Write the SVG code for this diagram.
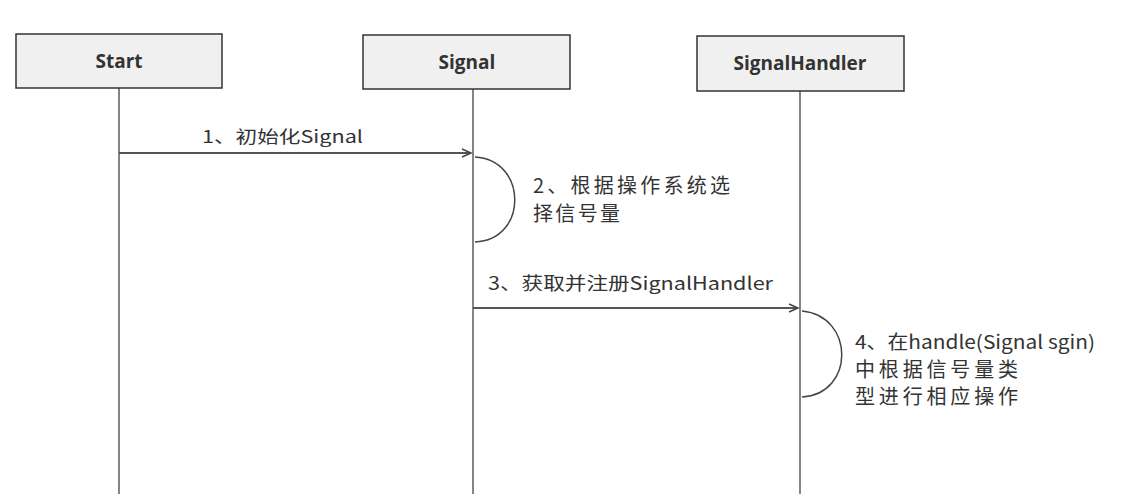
<svg xmlns="http://www.w3.org/2000/svg" width="1132" height="499" viewBox="0 0 1132 499">
<defs>
<style>
.box{fill:#f0f0f0;stroke:#333;stroke-width:1.5}
.hd{font-family:"Open Sans","Liberation Sans",sans-serif;font-weight:bold;font-size:19px;fill:#333;text-anchor:middle}
.life{stroke:#333;stroke-width:1.2;fill:none}
.msg{stroke:#555;stroke-width:1.8;fill:none}
.loop{stroke:#444;stroke-width:1.5;fill:none}
.lb{font-family:"Noto Sans CJK SC","Open Sans",sans-serif;fill:#333}
</style>
<marker id="ah" markerWidth="12" markerHeight="12" refX="10" refY="5" orient="auto" markerUnits="userSpaceOnUse">
<path d="M1,1 L10,5 L1,9" fill="none" stroke="#444" stroke-width="1.5"/>
</marker>
</defs>
<rect width="1132" height="499" fill="#fff"/>
<g id="start">
<rect class="box" x="16" y="34" width="206" height="54"/>
<text class="hd" x="119" y="68">Start</text>
<line class="life" x1="119" y1="88" x2="119" y2="494"/>
</g>
<g id="signal">
<rect class="box" x="363" y="35" width="207" height="54"/>
<text class="hd" x="467" y="69">Signal</text>
<line class="life" x1="473" y1="89" x2="473" y2="494"/>
</g>
<g id="handler">
<rect class="box" x="697" y="36" width="207" height="55"/>
<text class="hd" x="800" y="70">SignalHandler</text>
<line class="life" x1="800" y1="91" x2="800" y2="494"/>
</g>
<g id="connectors">
<line class="msg" x1="119" y1="153" x2="471" y2="153" marker-end="url(#ah)"/>
<path class="loop" d="M475,157 C528,160 528,240 475,242"/>
<line class="msg" x1="473" y1="308" x2="798" y2="308" marker-end="url(#ah)"/>
<path class="loop" d="M802,311 C855,316 855,394 802,397"/>
</g>
<g id="labels" class="lb">
<text x="202" y="143" font-size="17" textLength="161" lengthAdjust="spacingAndGlyphs">1、初始化Signal</text>
<text x="533" y="193" font-size="20" textLength="197" lengthAdjust="spacing">2、根据操作系统选</text>
<text x="533" y="221" font-size="20" textLength="87" lengthAdjust="spacing">择信号量</text>
<text x="488" y="290" font-size="18" textLength="285" lengthAdjust="spacingAndGlyphs">3、获取并注册SignalHandler</text>
<text x="855" y="349" font-size="19" textLength="240" lengthAdjust="spacingAndGlyphs">4、在handle(Signal sgin)</text>
<text x="855" y="377" font-size="20" textLength="163" lengthAdjust="spacing">中根据信号量类</text>
<text x="855" y="404" font-size="20" textLength="163" lengthAdjust="spacing">型进行相应操作</text>
</g>
</svg>
